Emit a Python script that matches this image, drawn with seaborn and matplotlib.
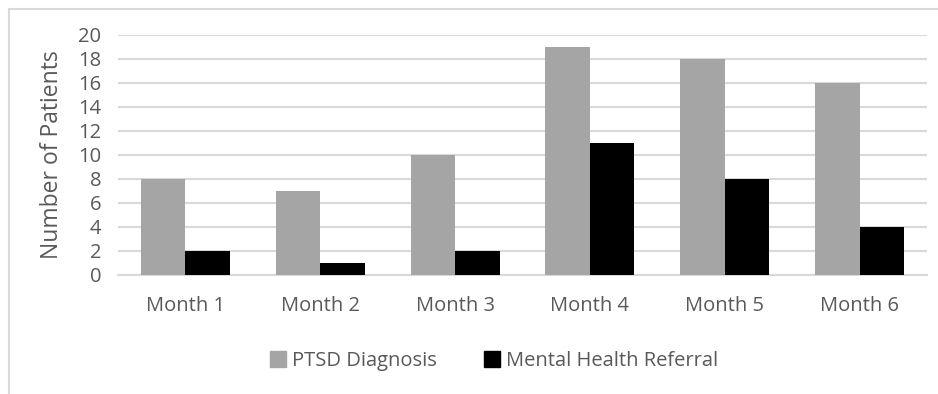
import pandas as pd
import matplotlib.pyplot as plt
import seaborn as sns
from matplotlib.patches import Rectangle

# chart values
months = ['Month 1', 'Month 2', 'Month 3', 'Month 4', 'Month 5', 'Month 6']
ptsd = [8, 7, 10, 19, 18, 16]
referral = [2, 1, 2, 11, 8, 4]
series = ['PTSD Diagnosis', 'Mental Health Referral']
colors = ['#A5A5A5', '#000000']

df = pd.DataFrame({
    'Month': months * 2,
    'Series': [series[0]] * len(months) + [series[1]] * len(months),
    'Patients': ptsd + referral,
})

sns.set_theme(style='white')
plt.rcParams['font.family'] = ['Open Sans', 'DejaVu Sans']
text_col = '#595959'
grid_col = '#D9D9D9'

fig = plt.figure(figsize=(9.38, 3.94), dpi=100)
ax = fig.add_axes([118 / 938, 1 - 275 / 394, (927 - 118) / 938, (275 - 35) / 394])

sns.barplot(data=df, x='Month', y='Patients', hue='Series', palette=colors,
            width=0.66, gap=0, ax=ax, legend=False, saturation=1,
            edgecolor='none', zorder=3)

ax.set_ylim(0, 20)
ax.set_yticks(range(0, 21, 2))
ax.set_xlim(-0.5, len(months) - 0.5)
ax.yaxis.grid(True, color=grid_col, linewidth=1.5, zorder=0)
ax.set_axisbelow(True)
for s in ['top', 'right', 'left']:
    ax.spines[s].set_visible(False)
ax.spines['bottom'].set_color(grid_col)
ax.spines['bottom'].set_linewidth(1.5)
ax.tick_params(axis='both', length=0, labelsize=14.5, colors=text_col)
ax.tick_params(axis='x', pad=15)
ax.tick_params(axis='y', pad=12)
ax.set_xlabel('')
ax.set_ylabel('Number of Patients', fontsize=16.5, color=text_col, labelpad=10)

handles = [Rectangle((0, 0), 1, 1, color=c) for c in colors]
fig.legend(handles, series, loc='center', bbox_to_anchor=(494 / 938, 1 - 361 / 394),
           ncol=2, frameon=False, fontsize=14.5, labelcolor=text_col,
           handlelength=0.8, handleheight=0.8, handletextpad=0.3, columnspacing=2.3)

# outer chart frame
fig.patches.append(Rectangle((9 / 938, -0.1), 1.1, 1 - 9 / 394 + 0.1,
                             transform=fig.transFigure, fill=False,
                             edgecolor=grid_col, linewidth=1.5))

fig.savefig('out.png', dpi=100)
